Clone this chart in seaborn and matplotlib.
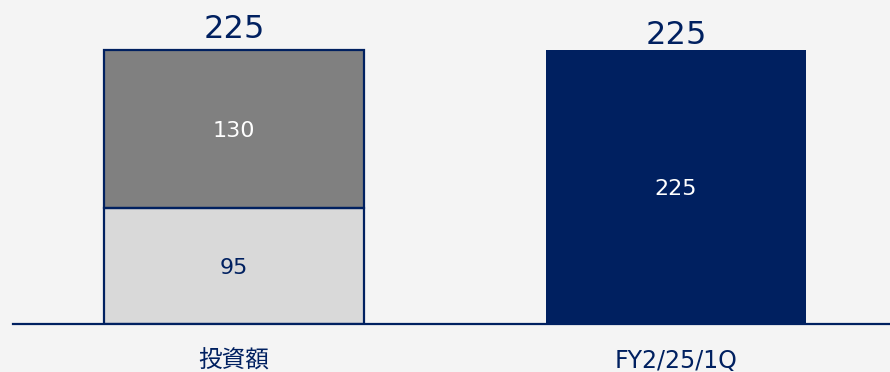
import matplotlib
matplotlib.use("Agg")
import matplotlib.pyplot as plt
import seaborn as sns
import pandas as pd

categories = ["投資額", "FY2/25/1Q"]
upper_values = [130, 0]      # dark grey segment of the investment bar
lower_values = [95, 0]       # light grey segment of the investment bar
result_values = [0, 225]     # navy bar

NAVY = "#002060"
DARK_GREY = "#808080"
LIGHT_GREY = "#d9d9d9"
BG = "#f4f4f4"

sns.set_theme(style="white")
plt.rcParams["font.family"] = ["DejaVu Sans", "Noto Sans CJK JP"]

totals = [u + l + r for u, l, r in zip(upper_values, lower_values, result_values)]

fig = plt.figure(figsize=(8.9, 3.72), dpi=100, facecolor=BG)
ax = fig.add_axes([13 / 890, 48 / 372, 877 / 890, 324 / 372])
ax.set_facecolor(BG)

width = 260 / 442

# full-height bars: grey stack top for the investment, navy for the quarter
df_total = pd.DataFrame({"cat": categories, "val": totals})
sns.barplot(data=df_total, x="cat", y="val", hue="cat",
            palette=[DARK_GREY, NAVY], width=width, ax=ax,
            legend=False, saturation=1, linewidth=0)

# lower segment of the investment bar
df_lower = pd.DataFrame({"cat": categories, "val": lower_values})
sns.barplot(data=df_lower, x="cat", y="val", color=LIGHT_GREY,
            width=width, ax=ax, saturation=1, linewidth=0)

# navy outlines around the stacked segments
for i, (lo, up) in enumerate(zip(lower_values, upper_values)):
    if lo + up == 0:
        continue
    for bottom, h in ((0, lo), (lo, up)):
        ax.add_patch(plt.Rectangle((i - width / 2, bottom), width, h,
                                   fill=False, edgecolor=NAVY, linewidth=1.6,
                                   zorder=5))

# segment labels
inner_size = 16
ax.text(0, lower_values[0] / 2, str(lower_values[0]), ha="center",
        va="center_baseline", color=NAVY, fontsize=inner_size)
ax.text(0, lower_values[0] + upper_values[0] / 2, str(upper_values[0]),
        ha="center", va="center_baseline", color="white", fontsize=inner_size)
ax.text(1, result_values[1] / 2, str(result_values[1]), ha="center",
        va="center_baseline", color="white", fontsize=inner_size)

# totals above bars
ax.text(0, totals[0] + 10, str(totals[0]), ha="center", va="baseline",
        color=NAVY, fontsize=23)
ax.text(1, totals[1] + 5, str(totals[1]), ha="center", va="baseline",
        color=NAVY, fontsize=23)

ax.set_xlim(-0.5, (890 - 234) / 442)
ax.set_ylim(0, 225 * 324 / 274)
ax.set_xlabel("")
ax.set_ylabel("")
ax.set_yticks([])
ax.set_xticks([0, 1])
ax.set_xticklabels(categories, color=NAVY, fontsize=17)
ax.tick_params(axis="x", length=0, pad=18)
for side in ("top", "right", "left"):
    ax.spines[side].set_visible(False)
ax.spines["bottom"].set_color(NAVY)
ax.spines["bottom"].set_linewidth(1.6)

fig.savefig("out.png", dpi=100, facecolor=BG)
